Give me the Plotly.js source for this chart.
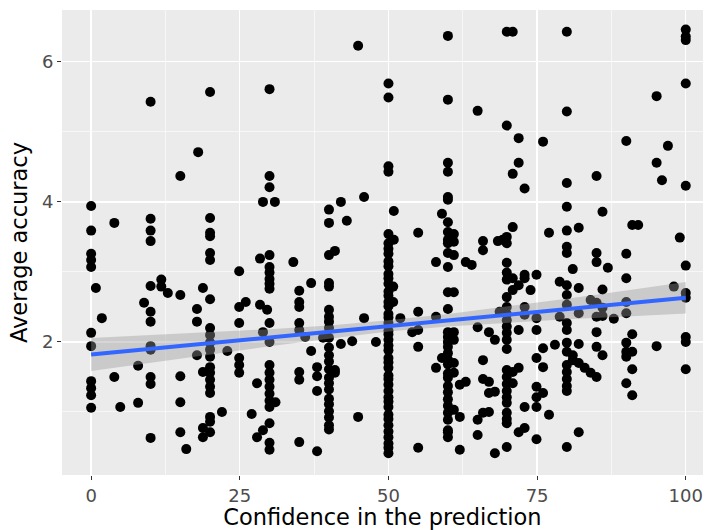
<!DOCTYPE html>
<html>
<head>
<meta charset="utf-8">
<script src="https://cdn.plot.ly/plotly-3.0.1.min.js"></script>
<style>html,body{margin:0;padding:0;background:#fff}#chart{width:705px;height:530px}</style>
</head>
<body>
<div id="chart"></div>
<script>
// Points: [confidence, average accuracy]
const pts_0_9 = [[0,3.94],[0,3.59],[0,3.26],[0,3.17],[0,3.07],[0,2.13],[0,1.94],[0,1.44],[0,1.34],[0,1.24],[0,1.06],
  [0.8,2.77],[1.8,2.34],[3.9,3.70],[3.9,1.50],[4.9,1.07],[7.9,1.66],[7.9,1.13],[8.9,2.56]];
const pts_10_19 = [[10,5.43],[10,3.76],[10,3.59],[10,3.44],[10,2.80],[10,2.43],[10,2.29],[10,1.94],[10,1.89],[10,1.50],[10,1.40],[10,0.63],
  [11.8,2.89],[11.8,2.79],[12.9,2.70],[15,2.67],[15,4.37],[15,1.51],[15,1.14],[15,0.71],[16,0.47],
  [18,4.71],[18.8,2.77],[17.8,2.47],[17.8,2.29],[17.8,1.81],[18.8,1.57],[18.8,0.77],[18.8,0.64]];
const pts_20_29 = [[20,5.57],[20,3.77],[20,3.56],[20,3.51],[20,3.27],[20,3.17],[20,2.61],[20,2.20],[20,2.10],[20,1.99],[20,1.89],[20,1.79],
  [20,1.64],[20,1.56],[20,1.46],[20,1.36],[20,1.27],[20,0.93],[20,0.86],[20,0.71],[22,1.00],[22.9,1.87],
  [24.9,3.01],[24.9,2.50],[24.9,2.27],[24.9,1.77],[24.9,1.67],[24.9,1.56],[26,2.57],
  [27,0.97],[27.9,1.41],[27.9,0.64],[28.4,3.19],[28.4,2.53],[28.9,4.00],[28.9,2.14],[28.9,0.74],[29.6,2.46]];
const pts_30_39 = [[30,5.61],[30,4.37],[30,4.21],[30,3.24],[30,3.07],[30,2.99],[30,2.90],[30,2.83],[30,2.76],[30,2.27],[30,2.00],
  [30,1.67],[30,1.56],[30,1.46],[30,1.36],[30,1.26],[30,1.16],[30,1.07],[30,0.84],[30,0.56],[30,0.46],[30.9,4.00],[31,1.14],
  [34,3.14],[35,2.73],[35,2.57],[35,2.50],[35,2.27],[35,2.17],[35,1.57],[35,1.46],[35,0.57],[36,2.07],[37,2.84],[37,1.87],
  [38,1.64],[38,1.51],[38,1.30],[38,0.44],[39,2.06]];
const pts_40_49 = [[40,3.89],[40,3.70],[40,3.24],[40,2.84],[40,2.79],[40,2.46],[40,2.36],[40,2.29],[40,2.20],[40,2.06],[40,1.92],[40,1.81],
  [40,1.72],[40,1.61],[40,1.49],[40,1.41],[40,1.32],[40,1.19],[40,1.11],[40,1.01],[40,0.92],[40,0.81],[40,0.75],
  [41,3.30],[41,1.60],[41,1.56],[42,4.00],[42,1.97],[43,3.73],[43.9,2.01],[44.9,6.23],[44.9,0.93],[45.9,4.07],[45.9,2.34],[47.9,2.00]];
const pts_50_59 = [[50,5.69],[50,5.49],[50,4.51],[50,4.43],[50,3.54],[50,3.41],[50,3.33],[50,3.26],[50,3.15],[50,3.08],[50,2.97],[50,2.91],
  [50,2.83],[50,2.72],[50,2.66],[50,2.57],[50,2.51],[50,2.40],[50,2.35],[50,2.27],[50,2.16],[50,2.11],[50,2.03],[50,1.95],[50,1.88],
  [50,1.77],[50,1.71],[50,1.63],[50,1.52],[50,1.47],[50,1.39],[50,1.30],[50,1.21],[50,1.15],[50,1.07],[50,0.96],[50,0.90],[50,0.81],
  [50,0.72],[50,0.64],[50,0.55],[50,0.49],[50,0.41],
  [50.8,2.79],[50.8,2.57],[50.9,3.87],[50.9,3.46],[52,2.34],[54,2.14],[55,3.56],[55,2.43],[55,2.17],[55,1.93],[55,0.49],
  [58,3.14],[58,2.36],[58,1.63],[59,3.83],[59,1.77]];
const pts_60_69 = [[60,6.37],[60,5.46],[60,4.56],[60,4.43],[60,4.07],[60,4.03],[60,3.71],[60,3.57],[60,3.46],[60,3.41],[60,3.27],[60,3.07],
  [60,2.71],[60,2.47],[60,2.14],[60,2.07],[60,2.00],[60,1.93],[60,1.84],[60,1.75],[60,1.68],[60,1.55],[60,1.49],[60,1.37],[60,1.28],
  [60,1.18],[60,1.09],[60,0.99],[60,0.89],[60,0.74],[60,0.71],[60,0.64],
  [61,3.54],[61,3.43],[61,3.24],[61,2.71],[61,2.14],[61,2.03],[61,1.70],[61,1.56],[61,1.03],[62,1.39],[62,0.93],[62,0.46],
  [63,3.14],[63,1.43],[64,3.10],[65,5.30],[65,2.21],[65,0.89],[65,0.67],[65.9,3.44],[65.9,3.31],[65.9,1.74],[65.9,1.47],[65.9,0.99],
  [66.9,2.14],[66.9,1.43],[66.9,1.27],[66.9,1.00],[67.9,2.03],[67.9,1.29],[67.9,0.41],[68.4,3.44],[68.7,2.43],[69.2,3.46]];
const pts_70_79 = [[69.9,6.43],[69.9,5.09],[69.9,3.50],[69.9,3.41],[69.9,3.13],[69.9,2.99],[69.9,2.89],[69.9,2.64],[69.9,2.50],[69.9,2.40],
  [69.9,2.31],[69.9,2.22],[69.9,2.13],[69.9,2.03],[69.9,1.90],[69.9,1.60],[69.9,1.50],[69.9,1.40],[69.9,1.30],[69.9,1.21],[69.9,1.13],
  [69.9,0.99],[69.9,0.90],[69.9,0.84],[69.9,0.50],
  [70.9,6.43],[70.9,4.40],[70.9,3.64],[70.9,2.91],[70.9,2.74],[70.9,1.57],[70.9,1.41],
  [71.9,4.91],[71.9,4.56],[71.9,2.81],[71.9,2.17],[71.9,1.63],[71.9,0.71],
  [72.9,4.19],[72.9,2.96],[72.9,2.91],[72.9,2.50],[72.9,2.39],[72.9,1.07],[72.9,0.77],[73.9,2.74],
  [74.9,2.96],[74.9,2.34],[74.9,2.17],[74.9,1.77],[74.9,1.36],[74.9,1.21],[74.9,1.07],[74.9,0.61],
  [76,4.86],[76,1.91],[76,1.64],[76,1.27],[77,3.56],[77,0.96],[78,1.96],[78.8,2.86],[78.8,2.36]];
const pts_80_89 = [[80,6.43],[80,5.29],[80,4.27],[80,3.93],[80,3.59],[80,3.36],[80,3.27],[80,2.81],[80,2.67],[80,2.53],[80,2.27],[80,2.17],
  [80,1.99],[80,1.86],[80,1.67],[80,1.57],[80,1.47],[80,1.37],[80,1.30],[80,0.50],
  [81,3.04],[81,1.81],[81,1.74],[82,3.63],[82,2.77],[82,2.41],[82,1.97],[82,1.70],[82,0.71],[83,1.63],[84,2.60],[84,1.56],
  [85,4.37],[85,3.27],[85,3.14],[85,2.56],[85,2.36],[85,2.14],[85,1.93],[85,1.50],
  [86,3.86],[86,2.75],[86,2.49],[86,2.37],[86,1.81],[86.9,3.06],[87.9,2.33]];
const pts_90_100 = [[90,4.87],[90,3.26],[90,2.91],[90,2.57],[90,2.41],[90,1.99],[90,1.86],[90,1.79],[90,1.41],
  [91,3.67],[91,2.11],[91,1.86],[91,1.61],[91,1.24],[92,3.67],[95.1,5.51],[95.1,4.56],[95.1,1.94],[96,4.31],[97,4.80],[98,2.79],[99,3.49],
  [100,6.46],[100,6.36],[100,6.31],[100,5.69],[100,4.23],[100,3.09],[100,2.70],[100,2.63],[100,2.07],[100,2.00],[100,1.61]];

// Linear fit and its confidence band
const fitX     = [0, 10, 20, 30, 40, 50, 60, 70, 80, 90, 100];
const fitY     = [1.82, 1.90, 1.98, 2.06, 2.14, 2.23, 2.31, 2.39, 2.47, 2.55, 2.63];
const fitLower = [1.585, 1.705, 1.823, 1.938, 2.046, 2.15, 2.222, 2.277, 2.323, 2.365, 2.405];
const fitUpper = [2.055, 2.095, 2.137, 2.182, 2.234, 2.31, 2.398, 2.503, 2.617, 2.735, 2.855];

const xTicks = [0, 25, 50, 75, 100];
const yTicks = [2, 4, 6];

const allPts = [].concat(pts_0_9, pts_10_19, pts_20_29, pts_30_39, pts_40_49, pts_50_59, pts_60_69, pts_70_79, pts_80_89, pts_90_100);
const confidence = allPts.map(p => p[0]);
const accuracy = allPts.map(p => p[1]);

const traces = [
  {type:'scatter', mode:'markers', x:confidence, y:accuracy,
   marker:{color:'black', size:10, line:{width:0}}, hoverinfo:'x+y'},
  {type:'scatter', mode:'lines', x:fitX, y:fitLower, line:{width:0, color:'rgba(0,0,0,0)'}, hoverinfo:'skip'},
  {type:'scatter', mode:'lines', x:fitX, y:fitUpper, fill:'tonexty', fillcolor:'rgba(153,153,153,0.4)',
   line:{width:0, color:'rgba(0,0,0,0)'}, hoverinfo:'skip'},
  {type:'scatter', mode:'lines', x:fitX, y:fitY, line:{color:'#3366FF', width:4}, hoverinfo:'skip'}
];

const font = 'DejaVu Sans, sans-serif';
const layout = {
  width:705, height:530,
  margin:{l:62, r:2, t:10, b:55},
  paper_bgcolor:'white', plot_bgcolor:'#EBEBEB',
  showlegend:false,
  font:{family:font},
  xaxis:{
    range:[-4.9, 102.9], tickvals:xTicks, ticktext:xTicks.map(String),
    showgrid:true, gridcolor:'white', gridwidth:1.3, zeroline:false, showline:false,
    minor:{tickvals:[12.5, 37.5, 62.5, 87.5], showgrid:true, gridcolor:'white', gridwidth:0.6, ticks:''},
    ticks:'outside', ticklen:4, tickwidth:1.1, tickcolor:'#333333',
    tickfont:{family:font, size:18, color:'#4D4D4D'},
    title:{text:'Confidence in the prediction', font:{family:font, size:22.5, color:'black'}, standoff:6}
  },
  yaxis:{
    range:[0.1, 6.74], tickvals:yTicks, ticktext:yTicks.map(String),
    showgrid:true, gridcolor:'white', gridwidth:1.3, zeroline:false, showline:false,
    minor:{tickvals:[1, 3, 5], showgrid:true, gridcolor:'white', gridwidth:0.6, ticks:''},
    ticks:'outside', ticklen:4, tickwidth:1.1, tickcolor:'#333333',
    tickfont:{family:font, size:18, color:'#4D4D4D'},
    title:{text:'Average accuracy', font:{family:font, size:22.5, color:'black'}, standoff:8}
  }
};

Plotly.newPlot('chart', traces, layout, {displayModeBar:false, staticPlot:true});
</script>
</body>
</html>
